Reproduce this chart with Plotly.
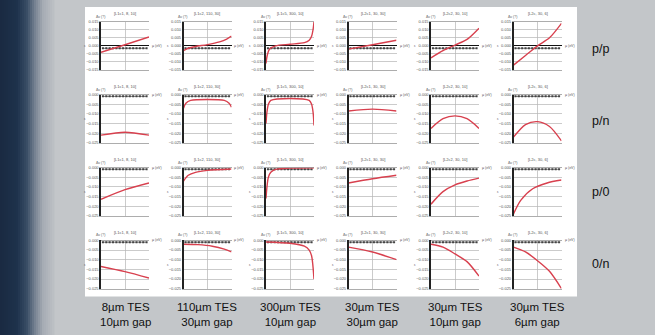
import plotly.graph_objects as go

W, H = 655, 335

# ---------------- data ----------------
col_titles = ["[L1c1, 8, 10]", "[L1c2, 110, 30]", "[L1c5, 300, 10]",
              "[L2c1, 30, 30]", "[L2c2, 30, 10]", "[L2c, 30, 6]"]
col_labels = ["8\u00b5m TES<br>10\u00b5m gap", "110\u00b5m TES<br>30\u00b5m gap",
              "300\u00b5m TES<br>10\u00b5m gap", "30\u00b5m TES<br>30\u00b5m gap",
              "30\u00b5m TES<br>10\u00b5m gap", "30\u00b5m TES<br>6\u00b5m gap"]
row_labels = ["p/p", "p/n", "p/0", "0/n"]
row_yrange = [[-0.015, 0.015], [-0.025, 0.0], [-0.025, 0.0], [-0.025, 0.0]]
meas_level = [-0.0015, -0.0009, -0.0009, -0.0009]
meas_x = [0.08, 0.22, 0.36, 0.5, 0.64, 0.78, 0.92, 1.06, 1.2, 1.34, 1.48, 1.62, 1.76, 1.9]

curve_x = [
    [[0, 1, 2], [0, 0.2, 0.5, 1.0, 1.5, 1.8, 2.0],
     [0, 0.05, 0.15, 0.4, 1.0, 1.6, 1.8, 1.9, 1.96, 2.0],
     [0, 1, 2], [0, 0.5, 1, 1.5, 2], [0, 0.5, 1, 1.5, 2]],
    [[0, 1, 2], [0, 0.1, 0.3, 1.0, 1.7, 1.9, 2.0],
     [0, 0.04, 0.1, 0.2, 1.0, 1.8, 1.9, 1.96, 2.0],
     [0, 1, 2], [0, 0.5, 1, 1.5, 2], [0, 0.5, 1, 1.5, 2]],
    [[0, 1, 2], [0, 0.2, 0.5, 1, 2], [0, 0.04, 0.1, 0.2, 0.4, 1, 2],
     [0, 1, 2], [0, 0.5, 1, 1.5, 2], [0, 0.3, 0.8, 1.4, 2]],
    [[0, 1, 2], [0, 0.6, 1.2, 1.7, 2], [0, 1, 1.6, 1.8, 1.9, 2.0],
     [0, 1, 2], [0, 0.5, 1, 1.5, 2], [0, 0.5, 1, 1.5, 2]],
]
curve_y = [
    [[-0.004, 0.0007, 0.0055],
     [-0.003, -0.0015, -0.0004, 0.0008, 0.0025, 0.0042, 0.006],
     [-0.011, -0.006, -0.002, 0.0, 0.001, 0.002, 0.0035, 0.006, 0.010, 0.015],
     [-0.002, 0.0007, 0.0035],
     [-0.0075, -0.003, 0.0005, 0.004, 0.011],
     [-0.012, -0.006, 0.0, 0.005, 0.014]],
    [[-0.021, -0.0195, -0.021],
     [-0.007, -0.0045, -0.003, -0.0025, -0.003, -0.0045, -0.0065],
     [-0.015, -0.009, -0.005, -0.003, -0.002, -0.003, -0.005, -0.009, -0.016],
     [-0.0085, -0.0075, -0.0085],
     [-0.0175, -0.0125, -0.011, -0.0125, -0.0175],
     [-0.022, -0.0155, -0.014, -0.0165, -0.024]],
    [[-0.0165, -0.0115, -0.008],
     [-0.007, -0.004, -0.0025, -0.0015, -0.0008],
     [-0.016, -0.01, -0.005, -0.0025, -0.001, -0.0003, -0.0001],
     [-0.008, -0.0058, -0.004],
     [-0.019, -0.0125, -0.009, -0.007, -0.0055],
     [-0.024, -0.017, -0.011, -0.008, -0.0065]],
    [[-0.0135, -0.0162, -0.0195],
     [-0.002, -0.0022, -0.003, -0.0045, -0.006],
     [-0.0008, -0.0015, -0.003, -0.005, -0.008, -0.02],
     [-0.0035, -0.006, -0.01],
     [-0.002, -0.0035, -0.007, -0.011, -0.0185],
     [-0.0035, -0.006, -0.0105, -0.016, -0.025]],
]

# ---------------- layout geometry (pixels) ----------------
col_left = [101, 183.5, 266, 348.5, 431, 513.5]
row_top = [19, 93, 167, 241]
row_label_y = [47, 120, 192, 265]
PW, PH = 48, 49
PAPER = "#c3c6c9"


def px(x):
    return x / W


def py(y):
    return 1 - y / H


fig = go.Figure()
shapes = []
annotations = []

# background: dark blue strip at left fading into grey
bg_stops = [(0, (26, 42, 66)), (16, (30, 50, 76)), (26, (58, 78, 102)),
            (34, (118, 130, 146)), (42, (166, 172, 180)), (54, (192, 195, 199))]
for i in range(0, 54, 2):
    for j in range(len(bg_stops) - 1):
        x0, c0 = bg_stops[j]
        x1, c1 = bg_stops[j + 1]
        if x0 <= i < x1:
            t = (i - x0) / (x1 - x0)
            c = tuple(int(c0[k] + (c1[k] - c0[k]) * t) for k in range(3))
    shapes.append(dict(type="rect", xref="paper", yref="paper", x0=px(i), x1=px(i + 2.5),
                       y0=-0.02, y1=1.02, fillcolor="rgb(%d,%d,%d)" % c, line_width=0,
                       layer="below"))

# white panel
shapes.append(dict(type="rect", xref="paper", yref="paper", x0=px(85), x1=px(577),
                   y0=py(298), y1=py(4), fillcolor="white", line_width=0, layer="below"))

small = dict(size=4, color="#555", family="Liberation Sans")
k = 0
for r in range(4):
    for c in range(6):
        k += 1
        xa = "x" if k == 1 else "x%d" % k
        ya = "y" if k == 1 else "y%d" % k
        xl = "xaxis" if k == 1 else "xaxis%d" % k
        yl = "yaxis" if k == 1 else "yaxis%d" % k
        x0, x1 = col_left[c], col_left[c] + PW
        y0, y1 = row_top[r], row_top[r] + PH
        fig.update_layout(**{
            xl: dict(domain=[px(x0), px(x1)], anchor=ya, range=[0, 2], dtick=1,
                     showgrid=True, gridcolor="#b5b5b5", gridwidth=0.7,
                     showline=True, linecolor="#8a8a8a", linewidth=0.7, mirror=True,
                     showticklabels=False, zeroline=False, ticks=""),
            yl: dict(domain=[py(y1), py(y0)], anchor=xa, range=row_yrange[r], dtick=0.005,
                     tickformat=".3f", showgrid=True, gridcolor="#b5b5b5", gridwidth=0.7,
                     showline=True, linecolor="#222", linewidth=1.6,
                     zeroline=True, zerolinecolor="#111", zerolinewidth=1,
                     tickfont=dict(size=4, color="#555", family="Liberation Sans"),
                     ticks="", ticklen=0),
        })
        # measurement points
        fig.add_trace(go.Scatter(x=meas_x, y=[meas_level[r]] * len(meas_x), xaxis=xa, yaxis=ya,
                                 mode="lines+markers", line=dict(color="#777", width=1),
                                 marker=dict(symbol="square", size=2, color="#444"),
                                 showlegend=False, hoverinfo="skip"))
        # model curve
        fig.add_trace(go.Scatter(x=curve_x[r][c], y=curve_y[r][c], xaxis=xa, yaxis=ya,
                                 mode="lines", line=dict(color="#d8404e", width=1.4,
                                                         shape="spline", smoothing=0.8),
                                 showlegend=False, cliponaxis=True))
        # subplot texts
        annotations.append(dict(text=col_titles[c], xref="paper", yref="paper",
                                x=px((x0 + x1) / 2), y=py(y0 - 8), xanchor="center",
                                yanchor="middle", showarrow=False, font=small))
        annotations.append(dict(text="\u0394\u03bd (?)", xref="paper", yref="paper",
                                x=px(x0 - 1), y=py(y0 - 1), xanchor="center", yanchor="bottom",
                                showarrow=False,
                                font=dict(size=3.5, color="#555", family="Liberation Sans")))
        annotations.append(dict(text="\u03bc (eV)", xref=xa, yref=ya, x=2, y=0,
                                xanchor="left", yanchor="middle", xshift=1, showarrow=False,
                                font=dict(size=3.5, color="#555", family="Liberation Sans")))
        annotations.append(dict(text="\u03b5", xref="paper", yref="paper",
                                x=px(x0 - 16), y=py((y0 + y1) / 2), xanchor="center",
                                yanchor="middle", showarrow=False,
                                font=dict(size=3.5, color="#666", family="Liberation Sans")))

# column labels
for c in range(6):
    annotations.append(dict(text=col_labels[c], xref="paper", yref="paper",
                            x=px(col_left[c] + PW / 2), y=py(316), xanchor="center",
                            yanchor="middle", showarrow=False, align="center",
                            font=dict(size=11.5, color="#111", family="Liberation Sans")))
# row labels
for r in range(4):
    annotations.append(dict(text=row_labels[r], xref="paper", yref="paper",
                            x=px(590), y=py(row_label_y[r]), xanchor="left", yanchor="middle",
                            showarrow=False,
                            font=dict(size=12.5, color="#111", family="Liberation Sans")))

fig.update_layout(width=W, height=H, margin=dict(l=0, r=0, t=0, b=0),
                  paper_bgcolor=PAPER, plot_bgcolor="white",
                  shapes=shapes, annotations=annotations, showlegend=False)

# remove the browser's default page margin / scrollbars so the figure fills the window
fig.write_html("out.html", config={"displayModeBar": False, "staticPlot": True},
               post_script="document.documentElement.style.margin='0';"
                           "document.body.style.margin='0';"
                           "document.documentElement.style.overflow='hidden';"
                           "document.body.style.overflow='hidden';"
                           "document.documentElement.style.background='" + PAPER + "';"
                           "document.body.style.background='" + PAPER + "';"
                           "window.scrollTo(0,0);")
